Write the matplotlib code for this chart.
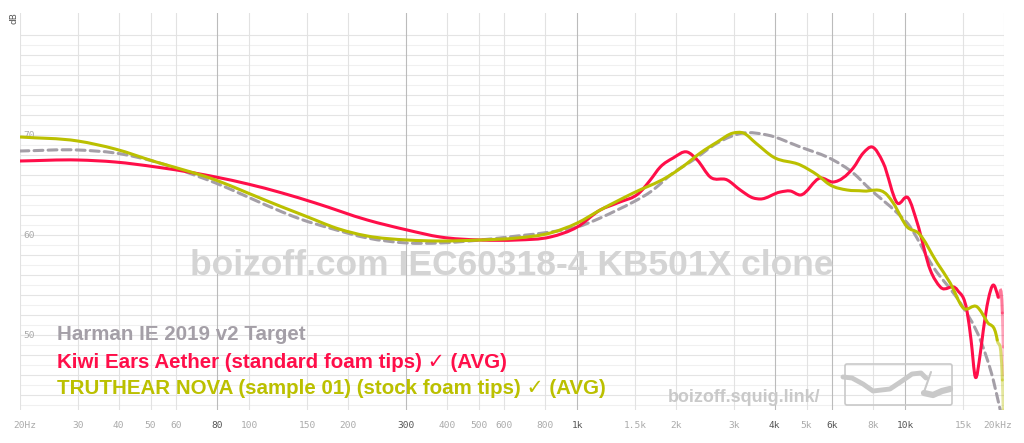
import numpy as np
import matplotlib.pyplot as plt
from matplotlib.path import Path
from matplotlib.patches import FancyBboxPatch, PathPatch
from matplotlib.transforms import blended_transform_factory

W, H = 1024, 443

# Harman IE 2019 v2 target
target_hz = [20, 30, 39, 52, 68, 79, 99, 126, 143, 180, 229, 303, 382, 506, 656, 828,
             1000, 1175, 1324, 1482, 1670, 1960, 2258, 2672, 3208, 3795, 4786, 6030,
             6938, 7740, 9457, 10140, 12170, 14720, 16940, 18550, 19480, 20000]
target_db = [68.4, 68.5, 68.2, 67.3, 66.0, 65.2, 63.8, 62.3, 61.6, 60.6, 59.7, 59.2, 59.2,
             59.5, 59.9, 60.3, 60.8, 61.7, 62.5, 63.3, 64.3, 66.2, 67.5, 69.2, 70.2, 70.0,
             68.8, 67.5, 66.2, 64.7, 62.2, 61.2, 56.8, 53.2, 49.5, 45.5, 42.5, 41.0]

# Kiwi Ears Aether
kiwi_hz = [20, 30, 39, 52, 68, 79, 99, 126, 159, 229, 303, 382, 506, 656, 828,
           1000, 1175, 1324, 1556, 1670, 1791, 1960, 2163, 2322, 2543, 2866, 3140, 3442,
           3610, 4159, 4460, 4786, 5509, 6030, 6938, 7447, 7929, 8570, 9457, 10210,
           10880, 11920, 12790, 14410, 15460, 15870, 16350, 16940, 17300, 17900, 18550,
           19200, 19770, 19900, 20000]
kiwi_db = [67.4, 67.5, 67.3, 66.8, 66.2, 65.8, 65.1, 64.2, 63.2, 61.5, 60.5, 59.8,
           59.5, 59.5, 59.8, 60.8, 62.5, 63.2, 64.3, 65.5, 66.8, 67.7, 68.3, 67.5, 65.8,
           65.5, 64.5, 63.7, 63.6, 64.3, 64.4, 64.0, 65.7, 65.3, 66.7, 68.2, 68.8, 67.2,
           63.2, 63.7, 61.2, 56.5, 54.8, 54.5, 52.2, 49.5, 45.8, 48.2, 50.5, 53.5, 55.0,
           53.8, 52.2, 48.8, 46.0]

# TRUTHEAR NOVA
nova_hz = [20, 30, 39, 52, 68, 79, 99, 126, 143, 159, 180, 229, 303, 382, 506, 656, 828,
           1000, 1175, 1482, 1880, 2090, 2371, 2672, 2990, 3208, 3500, 3959, 4786, 5395,
           5906, 6651, 7447, 8810, 9190, 10140, 10960, 12520, 13710, 15030, 16580, 17780,
           19070, 19770, 19900, 20000]
nova_db = [69.8, 69.4, 68.6, 67.3, 66.2, 65.5, 64.2, 62.8, 62.1, 61.5, 60.8, 59.9, 59.5,
           59.4, 59.5, 59.7, 60.2, 61.2, 62.5, 64.2, 65.8, 66.8, 68.2, 69.3, 70.2, 70.2,
           69.2, 67.8, 67.0, 66.0, 65.0, 64.5, 64.4, 64.0, 63.2, 60.8, 60.2, 57.2, 55.2,
           52.7, 52.8, 51.3, 49.5, 45.5, 42.5, 40.0]

xticks = [20, 30, 40, 50, 60, 80, 100, 150, 200, 300, 400, 500, 600, 800, 1000, 1500,
          2000, 3000, 4000, 5000, 6000, 8000, 10000, 15000, 20000]
xlabels = ['20Hz', '30', '40', '50', '60', '80', '100', '150', '200', '300', '400', '500',
           '600', '800', '1k', '1.5k', '2k', '3k', '4k', '5k', '6k', '8k', '10k', '15k', '20kHz']
strong = [80, 300, 1000, 4000, 6000, 10000]
yticks = [50, 60, 70]

names = ['Harman IE 2019 v2 Target',
         'Kiwi Ears Aether (standard foam tips) \u2713 (AVG)',
         'TRUTHEAR NOVA (sample 01) (stock foam tips) \u2713 (AVG)']
colors = ['#a49fa7', '#ff0e49', '#bbc000']

fig = plt.figure(figsize=(W / 100, H / 100), dpi=100)
ax = fig.add_axes([20 / W, 1 - 410 / H, 984 / W, 397 / H])
ax.set_xscale('log')
ax.set_xlim(20, 20000)
ax.set_ylim(42.5, 82.2)
ax.axis('off')

# grid
for d in range(43, 81):
    ax.axhline(d, color='#e4e4e4' if d % 2 == 0 else '#f0f0f0', lw=0.8, zorder=0)
for f in xticks:
    ax.axvline(f, color='#bbbbbb' if f in strong else '#e2e2e2', lw=0.8, zorder=0)

# watermark
ax.text(0.5, 0.365, 'boizoff.com IEC60318-4 KB501X clone', transform=ax.transAxes,
        ha='center', va='center', fontsize=25.5, fontweight='bold',
        family='Liberation Sans', color='#d4d4d4', zorder=1)


def segment_path(hz, db, i0, i1):
    # smooth cubic path through the measured points i0..i1 (log-frequency space)
    lx = np.log10(hz)
    y = np.asarray(db, dtype=float)
    m = np.gradient(y, lx)
    verts = [(lx[i0], y[i0])]
    codes = [Path.MOVETO]
    for i in range(i0, i1):
        dx = lx[i + 1] - lx[i]
        verts += [(lx[i] + dx / 3, y[i] + m[i] * dx / 3),
                  (lx[i + 1] - dx / 3, y[i + 1] - m[i + 1] * dx / 3),
                  (lx[i + 1], y[i + 1])]
        codes += [Path.CURVE4] * 3
    verts = np.array(verts)
    verts[:, 0] = 10 ** verts[:, 0]
    return Path(verts, codes)


def curve(hz, db, color, z, fade=0, dashed=False):
    n = len(hz) - 1
    ls = (0, (2.9, 1.7)) if dashed else '-'
    ax.add_patch(PathPatch(segment_path(hz, db, 0, n - fade), fill=False, ec=color,
                           lw=2.2, ls=ls, zorder=z, joinstyle='round', capstyle='round'))
    for k in range(fade):
        a = 0.75 * (1 - (k + 1) / (fade + 1))
        i = n - fade + k
        ax.add_patch(PathPatch(segment_path(hz, db, i, i + 1), fill=False, ec=color,
                               lw=2.2, ls=ls, alpha=a, zorder=z, capstyle='round'))


curve(target_hz, target_db, colors[0], 2, dashed=True)
curve(kiwi_hz, kiwi_db, colors[1], 3, fade=3)
curve(nova_hz, nova_db, colors[2], 4, fade=3)

# axis labels
mono = 'DejaVu Sans Mono'
bt = blended_transform_factory(ax.transData, fig.transFigure)
for f, lab in zip(xticks, xlabels):
    xx = f
    if f == 20:
        xx = 20.7
    if f == 20000:
        xx = 19150
    ax.text(xx, 1 - 425 / H, lab, transform=bt, ha='center', va='center', fontsize=6.8,
            family=mono, color='#555555' if f in strong else '#aaaaaa')
bty = blended_transform_factory(fig.transFigure, ax.transData)
for d in yticks:
    ax.text(23 / W, d, str(d), transform=bty, ha='left', va='center', fontsize=6.8,
            family=mono, color='#aaaaaa')
fig.text(14 / W, 1 - 18 / H, 'dB', rotation=90, ha='center', va='center', fontsize=6.5,
         color='#555555')

# legend texts
fam = ['Liberation Sans', 'DejaVu Sans']
for i, (name, c) in enumerate(zip(names, colors)):
    fig.text(57 / W, 1 - (335 + 27 * i) / H, name, ha='left', va='center', fontsize=14.8,
             fontweight='bold', family=fam, color=c)

# site label and logo
over = fig.add_axes([0, 0, 1, 1], facecolor='none')
over.set_xlim(0, W)
over.set_ylim(H, 0)
over.axis('off')
over.text(744, 397, 'boizoff.squig.link/', ha='center', va='center', fontsize=12.9,
          fontweight='bold', family='Liberation Sans', color='#c9c9c9')
over.add_patch(FancyBboxPatch((845, 364), 107, 41, boxstyle='round,pad=0,rounding_size=2',
                              fill=False, ec='#c9c9c9', lw=1.2))
sq_x = [843, 852, 863, 873, 890, 902, 912, 921, 926]
sq_y = [377, 378, 384, 391, 389, 381, 374, 373, 378]
over.plot(sq_x, sq_y, color='#c9c9c9', lw=3.5, solid_capstyle='round')
over.plot([931, 924], [372, 392], color='#c9c9c9', lw=1.5, solid_capstyle='round')
over.plot([924, 933, 942, 950], [393, 395, 391, 389], color='#c9c9c9', lw=4.5,
          solid_capstyle='round')

fig.savefig('out.png', dpi=100)
